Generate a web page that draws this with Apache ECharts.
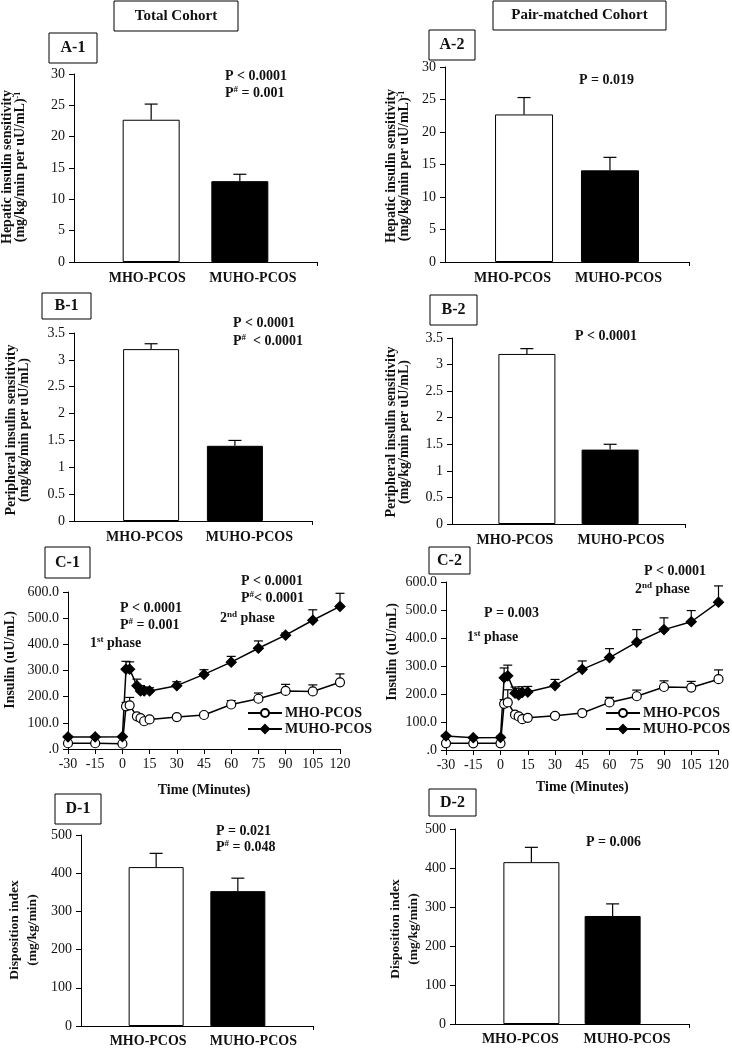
<!DOCTYPE html>
<html><head><meta charset="utf-8">
<script src="https://cdn.jsdelivr.net/npm/echarts@6/dist/echarts.min.js"></script>
<style>html,body{margin:0;padding:0;background:#fff}#c{width:732px;height:1050px}</style>
</head><body><div id="c"></div><script>
// ---------- data ----------
const groups = ['MHO-PCOS', 'MUHO-PCOS'];
const hepaticTotal = [22.7, 12.9];
const hepaticTotalSE = [2.5, 1.1];
const hepaticPair = [22.7, 14.1];
const hepaticPairSE = [2.6, 2.0];
const periphTotal = [3.2, 1.4];
const periphTotalSE = [0.1, 0.1];
const periphPair = [3.2, 1.4];
const periphPairSE = [0.1, 0.1];
const dispTotal = [416, 353];
const dispTotalSE = [36, 34];
const dispPair = [415, 277];
const dispPairSE = [38, 31];

const timeMin = [-30, -15, 0, 2, 4, 8, 10, 12, 15, 30, 45, 60, 75, 90, 105, 120];
const insTotalMHO = [22, 22, 20, 163, 167, 125, 118, 106, 113, 122, 130, 170, 192, 222, 220, 255];
const insTotalMHOSE = [3, 3, 3, 15, 30, 8, 8, 6, 6, 8, 8, 15, 22, 25, 25, 32];
const insTotalMUHO = [46, 46, 47, 305, 305, 242, 222, 222, 222, 242, 285, 332, 385, 435, 492, 545];
const insTotalMUHOSE = [4, 4, 4, 30, 28, 25, 20, 15, 12, 15, 18, 22, 28, 8, 40, 50];
const insPairMHO = [24, 24, 24, 165, 170, 126, 120, 110, 115, 122, 132, 170, 192, 225, 223, 253];
const insPairMHOSE = [3, 3, 3, 15, 45, 8, 8, 6, 6, 8, 8, 18, 22, 22, 22, 33];
const insPairMUHO = [50, 44, 45, 258, 265, 203, 197, 206, 207, 230, 288, 330, 385, 430, 458, 528];
const insPairMUHOSE = [4, 4, 4, 35, 38, 22, 22, 20, 20, 22, 30, 32, 45, 42, 40, 58];

// ---------- styles ----------
const F = 'Liberation Serif';
const INK = '#111';
const chart = echarts.init(document.getElementById('c'), null, {renderer: 'canvas'});

const grids = [], xAxes = [], yAxes = [], series = [];

function errRender(cap) {
  return function (params, api) {
    const x = api.value(0), v = api.value(1), e = api.value(2);
    const p0 = api.coord([x, v]);
    const p1 = api.coord([x, v + e]);
    const st = {stroke: '#000', lineWidth: 1.2};
    return {type: 'group', children: [
      {type: 'line', shape: {x1: p0[0], y1: p0[1], x2: p1[0], y2: p1[1]}, style: st},
      {type: 'line', shape: {x1: p1[0] - cap, y1: p1[1], x2: p1[0] + cap, y2: p1[1]}, style: st}
    ]};
  };
}

function addBarPanel(p) {
  const gi = grids.length;
  grids.push({left: p.g[0], top: p.g[1], width: p.g[2], height: p.g[3], containLabel: false});
  // label anchor positions (layout offsets from the bar centres)
  const lblPos = [0 + p.lo[0], 1 + p.lo[1]];
  xAxes.push({
    gridIndex: gi, type: 'value', min: -p.pad, max: 1 + p.pad,
    axisLine: {show: true, onZero: false, lineStyle: {color: '#000', width: 1}},
    axisTick: {show: true, customValues: [1 + p.pad], length: 4, lineStyle: {color: '#000'}},
    splitLine: {show: false},
    axisLabel: {customValues: lblPos, formatter: v => groups[v < 0.5 ? 0 : 1], margin: p.lm || 9,
      showMinLabel: true, showMaxLabel: true, hideOverlap: false,
      fontFamily: F, fontWeight: 'bold', fontSize: 14, color: INK}
  });
  yAxes.push({
    gridIndex: gi, type: 'value', min: 0, max: p.max, interval: p.step,
    axisLine: {show: true, onZero: false, lineStyle: {color: '#000', width: 1}},
    axisTick: {show: true, length: 5, lineStyle: {color: '#000'}},
    splitLine: {show: false},
    axisLabel: {margin: 9, fontFamily: F, fontSize: 14, color: INK}
  });
  series.push({
    type: 'bar', xAxisIndex: gi, yAxisIndex: gi, barWidth: p.bw, z: 2,
    data: p.vals.map((v, i) => ({value: [i, v], itemStyle: {color: i ? '#000' : '#fff', borderColor: '#000', borderWidth: 1}}))
  });
  series.push({
    type: 'custom', xAxisIndex: gi, yAxisIndex: gi, z: 3, clip: false,
    encode: {x: 0, y: 1}, renderItem: errRender(6.5),
    data: p.vals.map((v, i) => [i, v, p.se[i]])
  });
}

function addLinePanel(p) {
  const gi = grids.length;
  grids.push({left: p.g[0], top: p.g[1], width: p.g[2], height: p.g[3], containLabel: false});
  xAxes.push({
    gridIndex: gi, type: 'value', min: -30, max: 120, interval: 15,
    name: 'Time (Minutes)', nameLocation: 'middle', nameGap: p.nameGap,
    nameTextStyle: {fontFamily: F, fontWeight: 'bold', fontSize: 14, color: INK},
    axisLine: {show: true, onZero: false, lineStyle: {color: '#000', width: 1}},
    axisTick: {show: true, length: 5, lineStyle: {color: '#000'}},
    splitLine: {show: false},
    axisLabel: {margin: 8, fontFamily: F, fontSize: 14, color: INK}
  });
  yAxes.push({
    gridIndex: gi, type: 'value', min: 0, max: 600, interval: 100,
    axisLine: {show: true, onZero: false, lineStyle: {color: '#000', width: 1}},
    axisTick: {show: true, length: 5, lineStyle: {color: '#000'}},
    splitLine: {show: false},
    axisLabel: {margin: 9, fontFamily: F, fontSize: 14, color: INK,
      formatter: v => v === 0 ? '.0' : v.toFixed(1)}
  });
  const defs = [
    {name: 'MHO-PCOS', vals: p.mho, se: p.mhoSE, symbol: 'circle', size: 9, fill: '#fff'},
    {name: 'MUHO-PCOS', vals: p.muho, se: p.muhoSE, symbol: 'diamond', size: 10, fill: '#000'}
  ];
  defs.forEach(d => {
    series.push({
      type: 'custom', xAxisIndex: gi, yAxisIndex: gi, z: 2, clip: false,
      encode: {x: 0, y: 1}, renderItem: errRender(4.5),
      data: timeMin.map((t, i) => [t, d.vals[i], d.se[i]])
    });
  });
  defs.forEach(d => {
    series.push({
      type: 'line', name: d.name, xAxisIndex: gi, yAxisIndex: gi, z: 4,
      symbol: d.symbol, symbolSize: d.size, showAllSymbol: true,
      lineStyle: {color: '#000', width: 1.5},
      itemStyle: {color: d.fill, borderColor: '#000', borderWidth: 1.2},
      data: timeMin.map((t, i) => [t, d.vals[i]])
    });
  });
}

addBarPanel({g: [74, 74, 243, 188], pad: 0.87, bw: 57, max: 30, step: 5, lo: [-0.045, 0.147], vals: hepaticTotal, se: hepaticTotalSE});
addBarPanel({g: [445, 67, 244, 195], pad: 0.92, bw: 58, max: 30, step: 5, lo: [-0.134, 0.099], vals: hepaticPair, se: hepaticPairSE});
addBarPanel({g: [74, 333, 238, 188], pad: 0.92, bw: 56, max: 3.5, step: 0.5, lo: [-0.078, 0.173], vals: periphTotal, se: periphTotalSE});
addBarPanel({g: [452, 338, 233, 186], pad: 0.9, bw: 57, max: 3.5, step: 0.5, lo: [-0.144, 0.132], vals: periphPair, se: periphPairSE});
addLinePanel({g: [68, 592, 272, 157], nameGap: 34, mho: insTotalMHO, mhoSE: insTotalMHOSE, muho: insTotalMUHO, muhoSE: insTotalMUHOSE});
addLinePanel({g: [446, 582, 277, 168], nameGap: 30, mho: insPairMHO, mhoSE: insPairMHOSE, muho: insPairMUHO, muhoSE: insPairMUHOSE});
addBarPanel({g: [81, 835, 232, 191], pad: 0.92, bw: 55, max: 500, step: 100, lm: 8, lo: [-0.098, 0.19], vals: dispTotal, se: dispTotalSE});
addBarPanel({g: [455, 829, 234, 195], pad: 0.94, bw: 56, max: 500, step: 100, lm: 8, lo: [-0.135, 0.177], vals: dispPair, se: dispPairSE});

// ---------- annotations ----------
const g = [];
const SUP = {fontSize: 9, fontWeight: 'bold', fontFamily: F, fill: INK, verticalAlign: 'top', lineHeight: 10};
function box(x, y, w, h, label, fs) {
  g.push({type: 'rect', shape: {x: x, y: y, width: w, height: h}, style: {fill: '#fff', stroke: '#000', lineWidth: 1}, z: 10});
  g.push({type: 'text', x: x + w / 2, y: y + h / 2, z: 11,
    style: {text: label, align: 'center', verticalAlign: 'middle', fontFamily: F, fontWeight: 'bold', fontSize: fs, fill: INK}});
}
function note(x, y, text) {
  g.push({type: 'text', x: x, y: y, z: 11,
    style: {text: text, align: 'left', verticalAlign: 'middle', fontFamily: F, fontWeight: 'bold', fontSize: 14, lineHeight: 16, fill: INK,
      rich: {s: SUP}}});
}
function ytitle(cx, cy, lines, lh, fs) {
  g.push({type: 'text', x: cx, y: cy, rotation: Math.PI / 2, z: 11,
    style: {text: lines.join('\n'), align: 'center', verticalAlign: 'middle', fontFamily: F, fontWeight: 'bold', fontSize: fs, lineHeight: lh, fill: INK,
      rich: {s: {fontSize: 8, fontWeight: 'bold', fontFamily: F, fill: INK, verticalAlign: 'top', lineHeight: 8}}}});
}

box(114, 1, 124, 30, 'Total Cohort', 15);
box(493, 1, 173, 29, 'Pair-matched Cohort', 15);
box(49, 33, 48, 30, 'A-1', 16);
box(429, 30, 46, 30, 'A-2', 16);
box(42, 293, 49, 26, 'B-1', 16);
box(430, 295, 47, 30, 'B-2', 16);
box(45, 547, 45, 31, 'C-1', 16);
box(429, 547, 41, 27, 'C-2', 16);
box(55, 794, 46, 30, 'D-1', 16);
box(429, 789, 47, 27, 'D-2', 16);

note(225, 76, 'P < 0.0001');
note(225, 93, 'P{s|#} = 0.001');
note(579, 80, 'P = 0.019');
note(233, 323, 'P < 0.0001');
note(233, 341, 'P{s|#}  < 0.0001');
note(575, 336, 'P < 0.0001');
note(120, 608, 'P < 0.0001');
note(120, 625, 'P{s|#} = 0.001');
note(90, 643, '1{s|st} phase');
note(241, 581, 'P < 0.0001');
note(241, 598, 'P{s|#}< 0.0001');
note(220, 618, '2{s|nd} phase');
note(484, 613, 'P = 0.003');
note(467, 637, '1{s|st} phase');
note(644, 571, 'P < 0.0001');
note(635, 589, '2{s|nd} phase');
note(216, 831, 'P = 0.021');
note(216, 847, 'P{s|#} = 0.048');
note(586, 842, 'P = 0.006');

ytitle(14, 167, ['Hepatic insulin sensitivity', '(mg/kg/min per uU/mL){s|-1}'], 12.5, 14);
ytitle(398, 166, ['Hepatic insulin sensitivity', '(mg/kg/min per uU/mL){s|-1}'], 12.5, 14);
ytitle(18, 430, ['Peripheral insulin sensitivity', '(mg/kg/min per uU/mL)'], 12.5, 14);
ytitle(398, 432, ['Peripheral insulin sensitivity', '(mg/kg/min per uU/mL)'], 12.5, 14);
ytitle(10, 660, ['Insulin (uU/mL)'], 14, 14);
ytitle(392, 652, ['Insulin (uU/mL)'], 14, 14);
ytitle(24, 930, ['Disposition index', '(mg/kg/min)'], 18, 13.5);
ytitle(405, 929, ['Disposition index', '(mg/kg/min)'], 18, 13.5);

const legendBase = {
  orient: 'vertical', itemWidth: 34, itemHeight: 10, itemGap: 2, padding: 0,
  data: ['MHO-PCOS', 'MUHO-PCOS'], selectedMode: false,
  textStyle: {fontFamily: F, fontWeight: 'bold', fontSize: 14, color: INK, padding: [0, 0, 0, -2]}
};

chart.setOption({
  animation: false,
  backgroundColor: '#fff',
  grid: grids, xAxis: xAxes, yAxis: yAxes, series: series,
  legend: [
    Object.assign({left: 247, top: 706}, legendBase),
    Object.assign({left: 605, top: 706}, legendBase)
  ],
  graphic: {elements: g}
});
</script></body></html>
